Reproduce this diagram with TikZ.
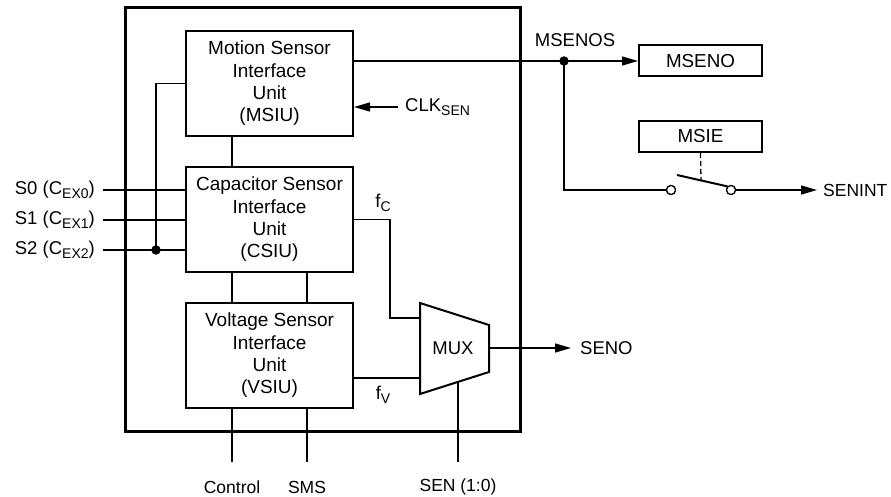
\documentclass[tikz,border=0pt]{standalone}
\usepackage{fontspec}
\setmainfont{Liberation Sans}
\usetikzlibrary{arrows.meta,calc}
\newcommand\sbs[1]{\raisebox{-4.5pt}{\fontsize{14}{14}\selectfont #1}}
\begin{document}
\begin{tikzpicture}[x=1pt,y=-1pt,
  wire/.style={line width=1.3pt},
  unitbox/.style={draw,line width=2pt,minimum width=167pt,minimum height=105pt,align=center,inner sep=0pt,font=\fontsize{19}{22.3}\selectfont},
  regbox/.style={draw,line width=2pt,minimum width=123pt,minimum height=31pt,inner sep=0pt,font=\fontsize{18.8}{22}\selectfont},
  lbl/.style={inner sep=0pt,font=\fontsize{18.5}{22}\selectfont},
  slbl/.style={inner sep=0pt,font=\fontsize{17.5}{20}\selectfont},
  arr/.style={-{Triangle[length=16pt,width=9pt]}},
  pin/.style={circle,draw,line width=1.2pt,fill=white,minimum size=9pt,inner sep=0pt},
  jdot/.style={circle,fill,minimum size=9.5pt,inner sep=0pt}
]
\useasboundingbox (0,0) rectangle (891,497);
% outer chip
\node[draw,line width=3pt,minimum width=395pt,minimum height=423pt,inner sep=0pt] (chip) at (322.5,219.5) {};
% units
\node[unitbox] (msiu) at (269.5,83.5) {Motion Sensor\\Interface\\Unit\\(MSIU)};
\node[unitbox] (csiu) at (269.5,219.5) {Capacitor Sensor\\Interface\\Unit\\(CSIU)};
\node[unitbox] (vsiu) at (269.5,355.5) {Voltage Sensor\\Interface\\Unit\\(VSIU)};
% registers
\node[regbox] (mseno) at (700.5,61) {MSENO};
\node[regbox] (msie) at (700.5,136.5) {MSIE};
% mux
\draw[line width=2pt] (420,303) -- (489,325) -- (489,372) -- (420,394) -- cycle;
\node[lbl] (mux) at (453,348) {MUX};
\coordinate (muxin1) at (420,318);
\coordinate (muxin2) at (420,378);
\coordinate (muxout) at (489,348);
\coordinate (muxsel) at (458,382);
% labels
\node[lbl] (msenos) at (575,40) {MSENOS};
\node[lbl,anchor=west] (clk) at (405,107) {CLK\sbs{SEN}};
\node[lbl,anchor=west] (seno) at (580,348) {SENO};
\node[slbl,anchor=west] (senint) at (823,190) {SENINT};
\node[lbl] (fc) at (383,203) {f\sbs{C}};
\node[lbl] (fv) at (383,395) {f\sbs{V}};
\node[lbl,anchor=east] (s0) at (95,190) {S0 (C\sbs{EX0})};
\node[lbl,anchor=east] (s1) at (95,220) {S1 (C\sbs{EX1})};
\node[lbl,anchor=east] (s2) at (95,250) {S2 (C\sbs{EX2})};
\node[slbl] (ctrl) at (232,487) {Control};
\node[slbl] (sms) at (307,487) {SMS};
\node[slbl] (sen) at (458,487) {SEN (1:0)};
% coordinates
\coordinate (msout) at (353,61);
\coordinate (jmain) at (564,61);
\coordinate (clkt) at (398,107);
\coordinate (senoa) at (571,348);
\coordinate (sinta) at (817,190);
\coordinate (fbk) at (156,83.5);
\coordinate (s0e) at (103,190);
\coordinate (s1e) at (103,220);
\coordinate (s2e) at (103,250);
\coordinate (jfb) at (156,250);
\coordinate (xa) at (232,0);
\coordinate (xb) at (307,0);
\coordinate (pinsbot) at (0,462);
\coordinate (fcx) at (390,219.5);
\coordinate (lev) at (677,175);
\coordinate (levm) at (701,181);
% switch pins
\node[pin] (p1) at (671,190) {};
\node[pin] (p2) at (731,190) {};
% wires
\draw[wire,arr] (msout) -- (jmain) -- (mseno.west);
\draw[wire] (jmain) |- (p1.west);
\draw[line width=2pt] (lev) -- (p2.north west);
\draw[wire,dashed,dash pattern=on 5pt off 3pt] (msie.south) -- (levm);
\draw[wire,arr] (p2.east) -- (sinta);
\draw[wire,arr] (clkt) -- (msiu.east |- clkt);
\draw[wire] (csiu.east) -- (fcx) |- (muxin1);
\draw[wire] (vsiu.east |- muxin2) -- (muxin2);
\draw[wire,arr] (muxout) -- (senoa);
\draw[wire] (muxsel) -- (muxsel |- pinsbot);
\draw[wire] (msiu.south -| xa) -- (csiu.north -| xa);
\draw[wire] (csiu.south -| xa) -- (vsiu.north -| xa);
\draw[wire] (csiu.south -| xb) -- (vsiu.north -| xb);
\draw[wire] (vsiu.south -| xa) -- (xa |- pinsbot);
\draw[wire] (vsiu.south -| xb) -- (xb |- pinsbot);
\draw[wire] (msiu.west |- fbk) -- (fbk) -- (jfb);
\draw[wire] (s0e) -- (csiu.west |- s0e);
\draw[wire] (s1e) -- (csiu.west |- s1e);
\draw[wire] (s2e) -- (csiu.west |- s2e);
\node[jdot] (d1) at (jmain) {};
\node[jdot] (d2) at (jfb) {};
\node[pin] at (p1) {};
\node[pin] at (p2) {};
\end{tikzpicture}
\end{document}
